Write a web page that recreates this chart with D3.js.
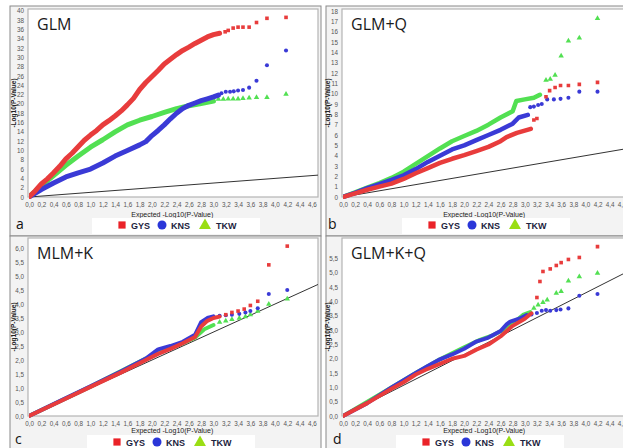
<!DOCTYPE html>
<html>
<head>
<meta charset="utf-8">
<script src="https://cdn.jsdelivr.net/npm/d3@7"></script>
<style>
  body { margin: 0; background: #fff; }
  svg { display: block; }
</style>
</head>
<body>
<div id="chart"></div>
<script>
// ---- shared ticks / legend ----
const xTicks = [0,0.2,0.4,0.6,0.8,1.0,1.2,1.4,1.6,1.8,2.0,2.2,2.4,2.6,2.8,3.0,3.2,3.4,3.6,3.8,4.0,4.2,4.4,4.6];
const traits = ["GYS", "KNS", "TKW"];

// y ticks per panel
const yTicksGLM  = [0,2,4,6,8,10,12,14,16,18,20,22,24,26,28,30,32,34,36,38,40];
const yTicksGLMQ = [0,1,2,3,4,5,6,7,8,9,10,11,12,13,14,15,16,17,18];
const yTicksMLMK = [0,0.5,1.0,1.5,2.0,2.5,3.0,3.5,4.0,4.5,5.0,5.5,6.0];
const yTicksGLMKQ = [0,0.5,1.0,1.5,2.0,2.5,3.0,3.5,4.0,4.5,5.0,5.5];

// expected line (observed = expected)
const refLine = [[0,0],[4.7,4.7]];
const refLineD = [[0,0],[4.7,5.05]];

// ---- a: GLM ----  [expected, observed]
const glmGYS = [[0,0],[0.1,1.3],[0.2,2.8],[0.3,3.9],[0.4,5.2],[0.5,6.6],[0.6,8.2],[0.7,9.4],[0.8,10.8],[0.9,12.2],[1.0,13.3],[1.1,14.3],[1.2,15.5],[1.3,16.4],[1.4,17.4],[1.5,18.5],[1.6,19.8],[1.7,21.2],[1.8,23.1],[1.9,24.6],[2.0,25.9],[2.1,27.2],[2.2,28.6],[2.3,29.6],[2.4,30.6],[2.5,31.5],[2.6,32.2],[2.7,33.0],[2.8,33.7],[2.9,34.4],[3.0,34.9],[3.1,35.2]];
const glmGYSTail = [[3.19,35.5],[3.24,35.8],[3.32,36.3],[3.40,36.5],[3.48,36.5],[3.58,36.5],[3.70,37.5],[3.87,38.4],[4.18,38.6]];
const glmKNS = [[0,0],[0.2,1.6],[0.4,3.0],[0.6,4.3],[0.8,5.2],[1.0,6.0],[1.2,7.3],[1.4,8.8],[1.6,10.0],[1.8,11.2],[1.9,11.9],[2.0,13.2],[2.1,14.3],[2.2,15.5],[2.3,16.8],[2.4,18.0],[2.5,19.0],[2.6,19.7],[2.7,20.2],[2.8,20.7],[2.9,21.1],[3.0,21.5],[3.08,21.9]];
const glmKNSTail = [[3.13,22.3],[3.20,22.6],[3.27,22.6],[3.33,22.7],[3.40,22.9],[3.48,23.0],[3.58,23.5],[3.70,25.0],[3.87,28.3],[4.18,31.5]];
const glmTKW = [[0,0],[0.2,2.4],[0.4,4.6],[0.6,6.8],[0.8,8.8],[1.0,10.7],[1.2,12.3],[1.4,14.0],[1.6,15.5],[1.8,16.5],[2.0,17.3],[2.2,18.2],[2.4,19.0],[2.6,19.6],[2.8,20.1],[3.0,20.6]];
const glmTKWTail = [[3.08,21.0],[3.16,21.0],[3.24,21.1],[3.32,21.1],[3.40,21.1],[3.48,21.2],[3.58,21.3],[3.70,21.4],[3.87,21.4],[4.18,22.1]];

// ---- b: GLM+Q ----
const glmqGYS = [[0,0],[0.2,0.35],[0.4,0.7],[0.6,1.0],[0.8,1.3],[1.0,1.75],[1.2,2.3],[1.4,2.8],[1.6,3.3],[1.8,3.7],[2.0,4.05],[2.2,4.45],[2.4,4.85],[2.6,5.4],[2.7,5.8],[2.87,6.2],[3.1,6.6]];
const glmqGYSTail = [[3.15,7.45],[3.2,7.6],[3.35,9.7],[3.41,10.3],[3.5,10.6],[3.59,10.8],[3.72,10.8],[3.9,10.9],[4.2,11.1]];
const glmqKNS = [[0,0],[0.2,0.4],[0.4,0.85],[0.6,1.25],[0.8,1.65],[1.0,2.1],[1.2,2.7],[1.4,3.4],[1.6,4.0],[1.8,4.6],[2.0,5.0],[2.2,5.5],[2.4,6.0],[2.6,6.5],[2.8,7.1],[2.9,7.7],[3.05,7.95]];
const glmqKNSTail = [[3.09,8.7],[3.15,8.75],[3.22,8.9],[3.28,9.0],[3.37,9.45],[3.48,9.45],[3.59,9.5],[3.72,9.6],[3.9,10.2],[4.2,10.2]];
const glmqTKW = [[0,0],[0.2,0.45],[0.4,0.9],[0.6,1.35],[0.8,1.85],[1.0,2.45],[1.2,3.2],[1.4,3.95],[1.6,4.7],[1.8,5.4],[2.0,5.9],[2.2,6.4],[2.4,7.0],[2.6,7.7],[2.8,8.3],[2.86,9.3],[3.0,9.45],[3.15,9.6],[3.25,9.9]];
const glmqTKWTail = [[3.35,11.3],[3.42,11.4],[3.5,11.8],[3.6,13.65],[3.72,15.1],[3.9,15.4],[4.2,17.3]];

// ---- c: MLM+K ----
const mlmGYS = [[0,0],[0.5,0.52],[1.0,1.04],[1.5,1.56],[1.9,2.0],[2.1,2.22],[2.3,2.4],[2.5,2.6],[2.7,2.82],[2.8,3.2],[2.9,3.4],[3.0,3.5],[3.1,3.55]];
const mlmGYSTail = [[3.2,3.62],[3.3,3.7],[3.4,3.75],[3.5,3.82],[3.6,3.95],[3.72,4.1],[3.9,5.4],[4.2,6.07]];
const mlmKNS = [[0,0],[0.5,0.53],[1.0,1.06],[1.5,1.6],[1.9,2.05],[2.1,2.38],[2.3,2.5],[2.5,2.65],[2.7,2.9],[2.8,3.35],[2.9,3.5],[3.0,3.56]];
const mlmKNSTail = [[3.1,3.58],[3.2,3.6],[3.3,3.62],[3.42,3.65],[3.52,3.7],[3.6,3.75],[3.72,3.85],[3.9,4.36],[4.2,4.5]];
const mlmTKW = [[0,0],[1.0,1.05],[1.9,2.05],[2.1,2.3],[2.5,2.6],[2.7,2.8],[2.85,3.1],[3.0,3.25]];
const mlmTKWTail = [[3.1,3.35],[3.2,3.4],[3.3,3.45],[3.42,3.5],[3.52,3.55],[3.6,3.62],[3.72,3.75],[3.9,4.0],[4.2,4.18]];

// ---- d: GLM+K+Q ----
const glmkqGYS = [[0,0],[0.4,0.45],[0.8,0.95],[1.0,1.18],[1.2,1.45],[1.4,1.65],[1.6,1.82],[1.8,2.0],[2.0,2.1],[2.2,2.32],[2.4,2.5],[2.6,2.78],[2.8,3.15],[3.0,3.4],[3.11,3.59]];
const glmkqGYSTail = [[3.2,4.14],[3.25,4.7],[3.3,5.05],[3.42,5.14],[3.52,5.26],[3.6,5.36],[3.72,5.47],[3.9,5.54],[4.2,5.92]];
const glmkqKNS = [[0,0],[0.4,0.45],[0.8,1.0],[1.0,1.25],[1.2,1.5],[1.4,1.75],[1.6,1.98],[1.8,2.15],[2.0,2.35],[2.2,2.6],[2.4,2.74],[2.6,2.97],[2.7,3.2],[2.76,3.3],[2.92,3.41],[3.03,3.53]];
const glmkqKNSTail = [[3.11,3.55],[3.2,3.6],[3.28,3.68],[3.35,3.7],[3.42,3.68],[3.52,3.7],[3.59,3.72],[3.72,3.76],[3.9,4.2],[4.2,4.26]];
const glmkqTKW = [[0,0],[0.8,1.0],[1.2,1.5],[1.6,1.98],[2.0,2.4],[2.26,2.66],[2.48,2.83],[2.7,3.07],[2.84,3.3],[2.97,3.53],[3.09,3.63]];
const glmkqTKWTail = [[3.15,3.77],[3.22,3.88],[3.3,3.97],[3.37,4.06],[3.52,4.29],[3.6,4.35],[3.72,4.72],[3.9,4.87],[4.2,4.99]];

const colors = {GYS: "#e83c3c", KNS: "#3a3ad6", TKW: "#52e052"};
const legendColors = {GYS: "#ea2228", KNS: "#2a36d8", TKW: "#9ade14"};

const panels = [
  {id: "a", title: "GLM", left: 29, top: 9, bottom: 197, xw: 289, ymax: 40.4, yTicks: yTicksGLM, yfmt: d => d,
   frame: [10, 6, 311, 230], legend: [92, 218, 168], letter: [16, 229], thick: 5, xlab: 20,
   ref: refLine,
   series: {GYS: [glmGYS, glmGYSTail], KNS: [glmKNS, glmKNSTail], TKW: [glmTKW, glmTKWTail]}},
  {id: "b", title: "GLM+Q", left: 343, top: 9, bottom: 197, xw: 284.8, ymax: 18.2, yTicks: yTicksGLMQ, yfmt: d => d,
   frame: [326, 6, 300, 230], legend: [402, 218, 168], letter: [328, 229], thick: 4.5, xlab: 20,
   ref: refLine,
   series: {GYS: [glmqGYS, glmqGYSTail], KNS: [glmqKNS, glmqKNSTail], TKW: [glmqTKW, glmqTKWTail]}},
  {id: "c", title: "MLM+K", left: 29, top: 238, bottom: 416, xw: 289, ymax: 6.36, yTicks: yTicksMLMK, yfmt: d => d3.format(".1f")(d).replace(".", ","),
   frame: [10, 236, 311, 215], legend: [87, 435, 168], letter: [15, 444], thick: 4, xlab: 17,
   ref: refLine,
   series: {GYS: [mlmGYS, mlmGYSTail], KNS: [mlmKNS, mlmKNSTail], TKW: [mlmTKW, mlmTKWTail]}},
  {id: "d", title: "GLM+K+Q", left: 343, top: 238, bottom: 416, xw: 284.8, ymax: 6.22, yTicks: yTicksGLMKQ, yfmt: d => d3.format(".1f")(d).replace(".", ","),
   frame: [326, 236, 300, 215], legend: [396, 435, 168], letter: [333, 444], thick: 4, xlab: 17,
   ref: refLineD,
   series: {GYS: [glmkqGYS, glmkqGYSTail], KNS: [glmkqKNS, glmkqKNSTail], TKW: [glmkqTKW, glmkqTKWTail]}}
];

const svg = d3.select("#chart").append("svg").attr("width", 623).attr("height", 448);
svg.append("rect").attr("width", 623).attr("height", 448).attr("fill", "#fff");

const xfmt = d => d3.format(".1f")(d).replace(".", ",");
const symbolOf = {GYS: d3.symbolSquare, KNS: d3.symbolCircle, TKW: d3.symbolTriangle};

panels.forEach(p => {
  const g = svg.append("g");
  const xScale = d3.scaleLinear().domain([0, 4.7]).range([p.left, p.left + p.xw]);
  const yScale = d3.scaleLinear().domain([0, p.ymax]).range([p.bottom, p.top]);

  // panel background + plot area
  g.append("rect")
    .attr("x", p.frame[0]).attr("y", p.frame[1])
    .attr("width", p.frame[2]).attr("height", p.frame[3])
    .attr("fill", "#f3f3f3").attr("stroke", "#8a8a8a").attr("stroke-width", 1);
  g.append("rect")
    .attr("x", p.left - 1).attr("y", p.top)
    .attr("width", p.xw + 1).attr("height", p.bottom - p.top)
    .attr("fill", "#fff").attr("stroke", "#b4b4b4").attr("stroke-width", 1.2);

  svg.append("clipPath").attr("id", "clip-" + p.id)
    .append("rect").attr("x", p.left).attr("y", p.top - 2)
    .attr("width", p.xw).attr("height", p.bottom - p.top + 4);

  // axes (labels only)
  const xAxis = g.append("g")
    .attr("transform", `translate(0,${p.bottom + 2})`)
    .call(d3.axisBottom(xScale).tickValues(xTicks).tickFormat(xfmt).tickSize(0).tickPadding(4));
  xAxis.select(".domain").remove();
  xAxis.selectAll("text").attr("font-family", "Liberation Sans Narrow, Liberation Sans, sans-serif")
    .attr("font-size", 6.3).attr("fill", "#555");

  const yAxis = g.append("g")
    .attr("transform", `translate(${p.left - 3},0)`)
    .call(d3.axisLeft(yScale).tickValues(p.yTicks).tickFormat(p.yfmt).tickSize(0).tickPadding(2));
  yAxis.select(".domain").remove();
  yAxis.selectAll("text").attr("font-family", "Liberation Sans Narrow, Liberation Sans, sans-serif")
    .attr("font-size", 6.3).attr("fill", "#555");

  g.append("text")
    .attr("x", xScale(2.33)).attr("y", p.bottom + p.xlab)
    .attr("text-anchor", "middle")
    .attr("font-family", "Liberation Sans Narrow, Liberation Sans, sans-serif")
    .attr("font-size", 7).attr("fill", "#222")
    .text("Expected -Log10(P-Value)");
  g.append("text")
    .attr("transform", `translate(${p.left - 13},${(p.top + p.bottom) / 2}) rotate(-90)`)
    .attr("text-anchor", "middle")
    .attr("font-family", "Liberation Sans, sans-serif")
    .attr("font-weight", "bold")
    .attr("font-size", 6.5).attr("fill", "#222")
    .text("-Log10(P-Value)");

  // plot contents
  const plot = g.append("g").attr("clip-path", `url(#clip-${p.id})`);
  const line = d3.line().x(d => xScale(d[0])).y(d => yScale(d[1]));
  plot.append("path").datum(p.ref)
    .attr("d", line).attr("fill", "none").attr("stroke", "#333").attr("stroke-width", 1);

  ["TKW", "KNS", "GYS"].forEach(t => {
    const [dense, tail] = p.series[t];
    plot.append("path").datum(dense)
      .attr("d", line).attr("fill", "none")
      .attr("stroke", colors[t]).attr("stroke-width", p.thick)
      .attr("stroke-linejoin", "round").attr("stroke-linecap", "round");
    plot.selectAll(null).data(tail).join("path")
      .attr("transform", d => `translate(${xScale(d[0])},${yScale(d[1])})`)
      .attr("d", d3.symbol().type(symbolOf[t]).size(13))
      .attr("fill", colors[t]);
  });

  g.append("text")
    .attr("x", p.left + 8).attr("y", p.top + 21)
    .attr("font-family", "Open Sans, sans-serif")
    .attr("font-size", 16).attr("fill", "#1a1a1a")
    .text(p.title);

  // panel letter
  g.append("text")
    .attr("x", p.letter[0]).attr("y", p.letter[1])
    .attr("font-family", "Open Sans, sans-serif")
    .attr("font-size", 14).attr("fill", "#111")
    .text(p.id);

  // legend
  const lg = g.append("g").attr("transform", `translate(${p.legend[0]},${p.legend[1]})`);
  lg.append("rect").attr("width", p.legend[2]).attr("height", 16).attr("fill", "#fff");
  const offs = [30, 70, 113];
  traits.forEach((t, i) => {
    lg.append("path")
      .attr("transform", `translate(${offs[i]},${t === "TKW" ? 7.5 : 7})`)
      .attr("d", d3.symbol().type(symbolOf[t]).size(t === "GYS" ? 52 : (t === "KNS" ? 64 : 62)))
      .attr("fill", legendColors[t]);
    lg.append("text")
      .attr("x", offs[i] + (t === "TKW" ? 11 : 9)).attr("y", 11)
      .attr("font-family", "Liberation Sans Narrow, Liberation Sans, sans-serif")
      .attr("font-weight", "bold").attr("font-size", 9).attr("fill", "#1c2340")
      .text(t);
  });
});
</script>
</body>
</html>
